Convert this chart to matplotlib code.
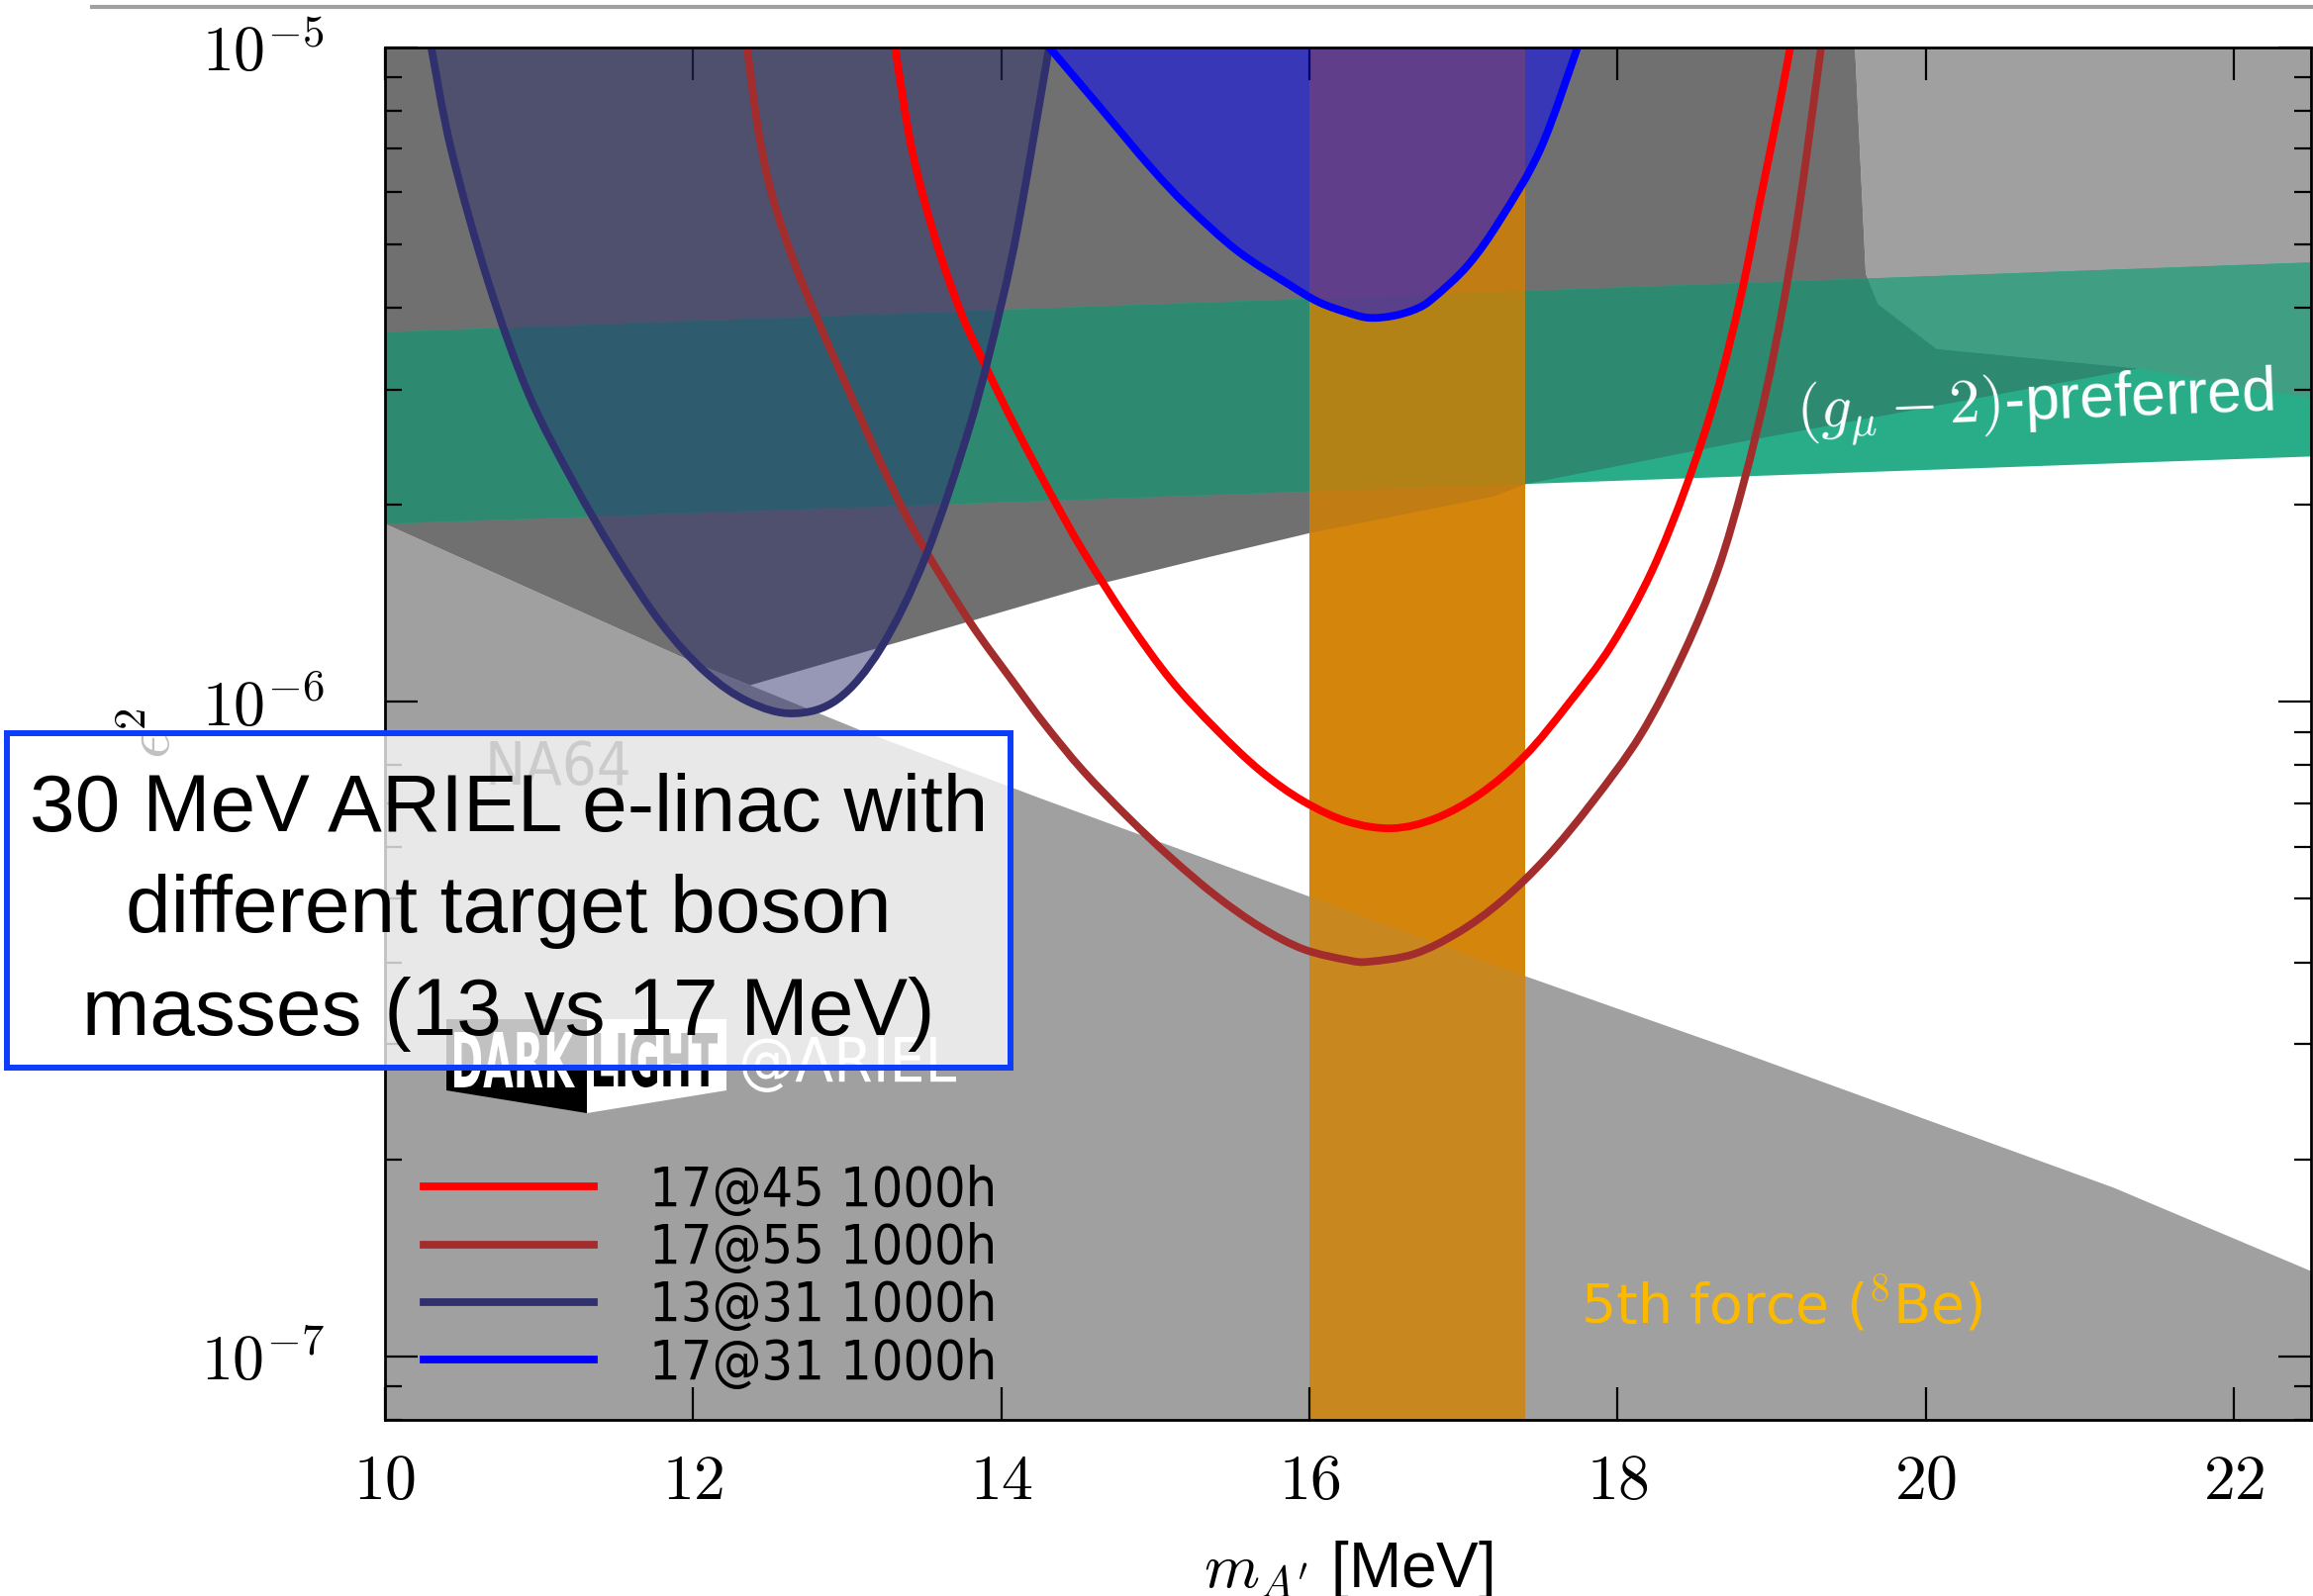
import matplotlib
matplotlib.use("Agg")
import numpy as np
import matplotlib.pyplot as plt
from matplotlib.patches import Polygon, Rectangle, PathPatch
from matplotlib.lines import Line2D
from matplotlib.path import Path
from matplotlib.textpath import TextPath
from matplotlib.font_manager import FontProperties
from matplotlib.transforms import Affine2D
from matplotlib.ticker import NullFormatter

plt.rcParams["mathtext.fontset"] = "cm"

W, H = 2337, 1613

# reach curves: epsilon^2 vs m_A' [MeV]
red_x = [13.31, 13.42, 13.57, 13.74, 13.91, 14.08, 14.31, 14.53, 14.82, 15.10, 15.39, 15.68, 15.96,
         16.25, 16.54, 16.82, 17.11, 17.40, 17.68, 17.96, 18.22, 18.45, 18.64, 18.80, 18.93, 19.04, 19.12]
red_y = [1.0e-5, 6.97e-6, 5.11e-6, 3.92e-6, 3.21e-6, 2.66e-6, 2.10e-6, 1.70e-6, 1.33e-6, 1.08e-6, 9.10e-7,
         7.85e-7, 7.05e-7, 6.56e-7, 6.41e-7, 6.64e-7, 7.24e-7, 8.28e-7, 9.93e-7, 1.22e-6, 1.58e-6, 2.15e-6,
         2.95e-6, 4.17e-6, 5.92e-6, 7.94e-6, 1.0e-5]

brown_x = [12.35, 12.42, 12.51, 12.65, 12.79, 12.94, 13.08, 13.22, 13.37, 13.51, 13.80, 14.08, 14.28, 14.53,
           14.82, 15.10, 15.39, 15.68, 15.96, 16.25, 16.39, 16.68, 16.97, 17.25, 17.54, 17.83, 18.15, 18.43,
           18.65, 18.82, 18.96, 19.075, 19.17, 19.25, 19.32]
brown_y = [1.0e-5, 7.53e-6, 5.96e-6, 4.73e-6, 3.92e-6, 3.25e-6, 2.74e-6, 2.31e-6, 1.95e-6, 1.70e-6, 1.32e-6,
           1.07e-6, 9.25e-7, 7.85e-7, 6.67e-7, 5.78e-7, 5.06e-7, 4.53e-7, 4.19e-7, 4.03e-7, 4.01e-7, 4.12e-7,
           4.45e-7, 4.97e-7, 5.79e-7, 7.00e-7, 8.91e-7, 1.19e-6, 1.59e-6, 2.17e-6, 2.96e-6, 4.05e-6, 5.52e-6,
           7.53e-6, 1.0e-5]

navy_x = [10.30, 10.43, 10.67, 10.93, 11.22, 11.50, 11.79, 12.08, 12.36, 12.65, 12.94, 13.22, 13.51, 13.80,
          14.00, 14.12, 14.31]
navy_y = [1.0e-5, 6.97e-6, 4.38e-6, 2.96e-6, 2.17e-6, 1.67e-6, 1.32e-6, 1.11e-6, 1.00e-6, 9.6e-7, 1.01e-6,
          1.21e-6, 1.67e-6, 2.66e-6, 4.05e-6, 5.52e-6, 1.0e-5]

blue_x = [14.31, 14.63, 14.97, 15.21, 15.53, 15.86, 16.06, 16.25, 16.39, 16.55, 16.70, 16.81, 17.03, 17.24,
          17.50, 17.74]
blue_y = [1.0e-5, 8.15e-6, 6.55e-6, 5.71e-6, 4.89e-6, 4.35e-6, 4.08e-6, 3.93e-6, 3.86e-6, 3.89e-6, 3.99e-6,
          4.15e-6, 4.65e-6, 5.46e-6, 7.00e-6, 1.0e-5]

labels = ["17@45 1000h", "17@55 1000h", "13@31 1000h", "17@31 1000h"]

# excluded regions (light grey below, dark grey above, light grey top right)
low_x = [10.0, 12.0, 13.11, 14.24, 15.99, 17.40, 18.74, 21.22, 22.5]
low_y = [1.87e-6, 1.15e-6, 9.0e-7, 7.14e-7, 5.05e-7, 3.81e-7, 2.95e-7, 1.81e-7, 1.35e-7]
dark_x = [12.37, 14.57, 15.33, 16.0, 17.2, 17.4, 18.74, 21.38]
dark_y = [1.06e-6, 1.50e-6, 1.66e-6, 1.81e-6, 2.06e-6, 2.15e-6, 2.48e-6, 3.23e-6]
upper_x = [19.54, 19.61, 19.69, 20.07, 21.38, 22.5]
upper_y = [1.0e-5, 4.51e-6, 4.05e-6, 3.46e-6, 3.23e-6, 2.91e-6]

# (g-2) preferred band and 8Be band
gm2_x = [10.0, 22.5]
gm2_lo = [1.87e-6, 2.37e-6]
gm2_hi = [3.67e-6, 4.69e-6]
be8_band = [16.0, 17.4]

x_ticks = [10, 12, 14, 16, 18, 20, 22]
y_ticks = [1e-7, 1e-6, 1e-5]
y_ticklabels = [r"$10^{-7}$", r"$10^{-6}$", r"$10^{-5}$"]

Y_BOT, Y_TOP = 8e-8, 1e-5

fig = plt.figure(figsize=(W / 100, H / 100), dpi=100)
ax = fig.add_axes([389 / W, 1 - 1435 / H, 1946 / W, 1387.3 / H])
ax.set_yscale("log")
ax.set_xlim(10, 22.5)
ax.set_ylim(Y_BOT, Y_TOP)


def poly(xs, ys, color, z, clip=None):
    p = Polygon(list(zip(xs, ys)), closed=True, facecolor=color, edgecolor="none", lw=0, zorder=z)
    ax.add_patch(p)
    if clip is not None:
        p.set_clip_path(clip)
    return p


def smooth_path(xs, ys, closed=False):
    # Catmull-Rom through the read points, done in (x, log y) so it is smooth on screen
    sx, sy = 155.75, 661.7
    P = np.column_stack([np.asarray(xs) * sx, np.log10(ys) * sy])
    n = len(P)
    verts, codes = [P[0]], [Path.MOVETO]
    for i in range(n - 1):
        p0 = P[max(i - 1, 0)]
        p1, p2 = P[i], P[i + 1]
        p3 = P[min(i + 2, n - 1)]
        verts += [p1 + (p2 - p0) / 6, p2 - (p3 - p1) / 6, p2]
        codes += [Path.CURVE4] * 3
    if closed:
        verts.append(P[0])
        codes.append(Path.CLOSEPOLY)
    V = np.array(verts)
    V = np.column_stack([V[:, 0] / sx, 10 ** (V[:, 1] / sy)])
    return Path(V, codes)


low_px = low_x + [22.5, 10.0]
low_py = low_y + [Y_BOT, Y_BOT]
up_px = upper_x + [22.5]
up_py = upper_y + [Y_TOP]
left_low = [(x, y) for x, y in zip(low_x, low_y) if x < dark_x[0]][::-1]
dk_px = [10.0] + upper_x[:5] + dark_x[-2::-1] + [p[0] for p in left_low]
dk_py = [Y_TOP] + upper_y[:5] + dark_y[-2::-1] + [p[1] for p in left_low]
g_px = [gm2_x[0], gm2_x[1], gm2_x[1], gm2_x[0]]
g_py = [gm2_lo[0], gm2_lo[1], gm2_hi[1], gm2_hi[0]]
o_px = [be8_band[0], be8_band[1], be8_band[1], be8_band[0]]
o_py = [Y_BOT, Y_BOT, Y_TOP, Y_TOP]

poly(low_px, low_py, "#a0a0a0", 1.0)
poly(up_px, up_py, "#a0a0a0", 1.0)
poly(dk_px, dk_py, "#707070", 1.1)
green = poly(g_px, g_py, "#29ad89", 1.2)
poly(dk_px, dk_py, "#2d8a70", 1.3, clip=green)
poly(up_px, up_py, "#409e83", 1.3, clip=green)
orange = poly(o_px, o_py, "#d4860c", 1.4)
poly(low_px, low_py, "#c9881f", 1.5, clip=orange)
poly(dk_px, dk_py, "#c17d14", 1.5, clip=orange)
poly(g_px, g_py, "#b28216", 1.6, clip=orange)

navy = "#30306e"
for xs, ys, c in [(navy_x, navy_y, navy), (blue_x, blue_y, "#0000ff")]:
    ax.add_patch(PathPatch(smooth_path(xs, ys, closed=True), facecolor=c, edgecolor="none",
                           alpha=0.5, zorder=2))

lw = 5.6
series = [(red_x, red_y, "#ff0000"), (brown_x, brown_y, "#a32d2d"),
          (navy_x, navy_y, navy), (blue_x, blue_y, "#0000ff")]
handles = []
for xs, ys, c in series:
    ax.add_patch(PathPatch(smooth_path(xs, ys), fill=False, edgecolor=c, lw=lw,
                           capstyle="round", joinstyle="round", zorder=3))
    handles.append(Line2D([], [], color=c, lw=lw))

cond = FontProperties(family="DejaVu Sans", size=40, stretch="condensed")
leg = ax.legend(handles, labels, loc="lower left", bbox_to_anchor=(0.02, 0.021),
                frameon=False, prop=cond, handlelength=3.1, handletextpad=1.0,
                labelspacing=0.08, borderpad=0, borderaxespad=0)
leg.set_zorder(4)

# axes styling
ax.set_xticks(x_ticks, labels=[f"${v}$" for v in x_ticks])
ax.set_yticks(y_ticks, labels=y_ticklabels)
ax.yaxis.set_minor_formatter(NullFormatter())
ax.tick_params(which="both", direction="in", top=True, right=True, width=1.6, labelsize=46)
ax.tick_params(which="major", length=24)
ax.tick_params(which="minor", length=12.5)
ax.tick_params(axis="y", pad=44)
ax.tick_params(axis="x", pad=22)
for s in ax.spines.values():
    s.set_linewidth(2.0)
    s.set_zorder(5)

ax.set_xlabel(r"$m_{A'}$ [MeV]", fontsize=46, family="Liberation Sans", labelpad=20)
ax.set_ylabel(r"$\epsilon^2$", fontsize=46)
ax.yaxis.set_label_coords(-0.105, 0.5)

ax.text(0.733, 0.7228, r"$(g_\mu - 2)$-preferred", transform=ax.transAxes, rotation=2.2,
        rotation_mode="anchor", ha="left", va="baseline", color="white", fontsize=45,
        family="Liberation Sans", zorder=4)
ax.text(0.6208, 0.0702, r"5th force ($^{\mathsf{8}}$Be)", transform=ax.transAxes, ha="left",
        va="baseline", color="#fbb900", fontsize=40, family="DejaVu Sans", zorder=4)
ax.text(0.0519, 0.4629, "NA64", transform=ax.transAxes, ha="left", va="baseline",
        color="#2a2a2a", fontproperties=FontProperties(family="DejaVu Sans", size=44, stretch="condensed"),
        zorder=4)


# DarkLight@ARIEL logo
def fig_poly(pts, color, z):
    fig.add_artist(Polygon([(x / W, 1 - y / H) for x, y in pts], closed=True, transform=fig.transFigure,
                           facecolor=color, edgecolor="none", zorder=z))


def stretched_text(s, x0, y_bottom, w, h, color, weight="bold", z=4.2):
    tp = TextPath((0, 0), s, size=100, prop=FontProperties(family="DejaVu Sans", weight=weight))
    ext = tp.get_extents()
    tr = (Affine2D().translate(-ext.x0, -ext.y0).scale(w / ext.width, h / ext.height)
          .translate(x0, H - y_bottom).scale(1 / W, 1 / H) + fig.transFigure)
    fig.add_artist(PathPatch(tp, transform=tr, facecolor=color, edgecolor="none", zorder=z))


fig_poly([(451, 1030), (593, 1030), (593, 1125), (451, 1102)], "black", 4.1)
fig_poly([(593, 1030), (734, 1030), (734, 1102), (593, 1125)], "white", 4.1)
stretched_text("DARK", 459, 1099, 122, 56, "white")
stretched_text("LIGHT", 600, 1099, 125, 56, "black")
stretched_text("@ARIEL", 750, 1104, 216, 56, "white", weight="normal")

# annotation box
fig.add_artist(Rectangle((7 / W, 1 - 1079 / H), 1014 / W, 338 / H, transform=fig.transFigure,
                         facecolor=(1, 1, 1, 0.76), edgecolor="#0b3dfb", lw=4.3, zorder=5))
box_lines = ["30 MeV ARIEL e-linac with", "different target boson", "masses (13 vs 17 MeV)"]
for txt, yb in zip(box_lines, [840, 942, 1046]):
    fig.text(514 / W, 1 - yb / H, txt, ha="center", va="baseline", fontsize=59,
             family="Liberation Sans", color="black", zorder=6)

fig.add_artist(Line2D([93 / W, 1], [1 - 7 / H, 1 - 7 / H], transform=fig.transFigure,
                      color="#a0a0a0", lw=3))

fig.savefig("out.png", dpi=100)
